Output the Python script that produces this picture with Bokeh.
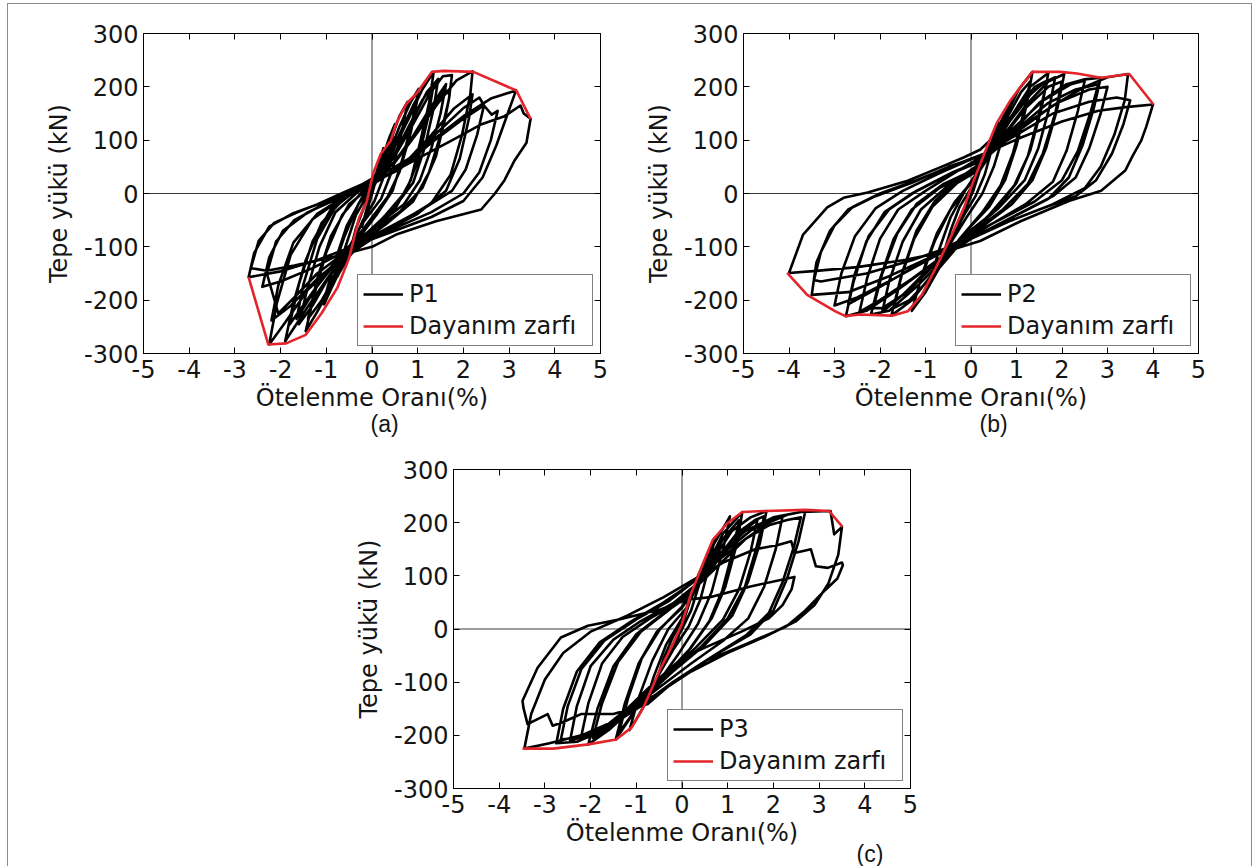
from bokeh.plotting import figure
from bokeh.models import (Span, Legend, LegendItem, LinearAxis, FixedTicker, Spacer, Div,
                          Title, NumeralTickFormatter, CustomLabelingPolicy)
from bokeh.layouts import row, column
from bokeh.embed import file_html
from bokeh.resources import INLINE

# ---- axis settings ------------------------------------------------------
X_TICKS = [-5, -4, -3, -2, -1, 0, 1, 2, 3, 4, 5]
Y_TICKS = [-300, -200, -100, 0, 100, 200, 300]
X_LABEL = "Ötelenme Oranı(%)"
Y_LABEL = "Tepe yükü (kN)"
ENV_NAME = "Dayanım zarfı"

# ---- specimen P1: drift ratio (%) / top load (kN), in loading order ----------
p1_path = [
    (0, 0), (0.1, 40), (0.25, 85), (0.15, 45), (0.02, 5), (-0.1, -30), (-0.22, -62), (-0.12, -30), (0, 0),
    (0.2, 60), (0.38, 105), (0.5, 130), (0.4, 85), (0.25, 30), (0.05, -15), (-0.2, -50), (-0.35, -80),
    (-0.48, -108), (-0.35, -65), (-0.15, -20), (0.05, 15),
    (0.35, 85), (0.6, 145), (0.78, 172), (0.65, 115), (0.45, 45), (0.2, -10), (-0.2, -55), (-0.5, -100),
    (-0.75, -155), (-0.6, -105), (-0.35, -40), (-0.05, 5),
    (0.3, 60), (0.6, 125), (0.85, 172), (1.02, 196), (0.88, 135), (0.65, 60), (0.45, 5), (0.1, -40),
    (-0.3, -85), (-0.65, -135), (-0.9, -180), (-1.05, -208), (-0.88, -150), (-0.6, -80), (-0.3, -20), (0.05, 18),
    (0.3, 55), (0.65, 120), (0.9, 165), (1.0, 180), (0.85, 115), (0.6, 40), (0.35, -5), (0, -45),
    (-0.4, -90), (-0.75, -140), (-1.0, -185), (-0.82, -130), (-0.55, -60), (-0.2, -5), (0.05, 15),
    (0.4, 70), (0.8, 140), (1.1, 195), (1.35, 228), (1.25, 170), (1.05, 95), (0.85, 25), (0.5, -30), (0, -72),
    (-0.5, -118), (-0.9, -175), (-1.2, -222), (-1.45, -258), (-1.28, -195), (-1.0, -110), (-0.65, -40),
    (-0.25, 0), (0.1, 25),
    (0.4, 60), (0.8, 125), (1.1, 175), (1.35, 205), (1.22, 140), (1.0, 60), (0.75, 5), (0.3, -40),
    (-0.2, -85), (-0.7, -140), (-1.1, -200), (-1.4, -235), (-1.2, -160), (-0.9, -80), (-0.5, -20), (0, 15),
    (0.5, 70), (0.9, 130), (1.25, 185), (1.55, 220), (1.75, 222), (1.68, 175), (1.5, 110), (1.25, 40),
    (0.9, -15), (0.3, -58), (-0.3, -95), (-0.9, -150), (-1.4, -212), (-1.9, -277), (-1.72, -205),
    (-1.45, -125), (-1.1, -55), (-0.6, -8), (0, 22),
    (0.5, 60), (1.0, 120), (1.4, 170), (1.6, 195), (1.7, 185), (1.6, 140), (1.4, 70), (1.1, 10),
    (0.6, -35), (0, -70), (-0.7, -120), (-1.3, -185), (-1.8, -245), (-1.6, -170), (-1.3, -90),
    (-0.9, -30), (-0.4, 5), (0, 20),
    (0.5, 58), (1.0, 115), (1.45, 170), (1.85, 212), (2.2, 229), (2.15, 185), (1.97, 110), (1.72, 35),
    (1.3, -18), (0.6, -55), (0, -85), (-0.7, -125), (-1.4, -180), (-1.9, -242), (-2.25, -283), (-2.08, -205),
    (-1.78, -115), (-1.3, -48), (-0.7, -12), (0, 16),
    (0.7, 55), (1.3, 110), (1.8, 160), (2.2, 186), (2.12, 140), (1.92, 65), (1.62, 5), (1.0, -38),
    (0.3, -70), (-0.5, -110), (-1.2, -160), (-1.8, -212), (-2.2, -238), (-2.05, -172), (-1.72, -92),
    (-1.2, -38), (-0.6, -6), (0, 20),
    (0.6, 45), (1.3, 95), (2.0, 140), (2.45, 165), (2.62, 148), (2.75, 155), (2.6, 100), (2.35, 40),
    (2.0, 0), (1.3, -35), (0.5, -65), (-0.4, -100), (-1.3, -140), (-2.0, -165), (-2.4, -175),
    (-2.25, -120), (-1.95, -70), (-1.4, -35), (-0.7, -8), (0, 18),
    (0.7, 55), (1.4, 105), (2.0, 145), (2.6, 178), (3.15, 193), (2.97, 150), (2.72, 90), (2.42, 30),
    (2.0, -14), (1.3, -44), (0.5, -70), (-0.3, -95), (-1.2, -125), (-2.0, -146), (-2.7, -157), (-2.58, -112),
    (-2.25, -62), (-1.75, -38), (-1.05, -16), (-0.3, 10),
    (0.4, 38), (1.1, 70), (1.8, 102), (2.4, 130), (2.9, 145), (3.25, 165), (3.32, 150), (3.47, 140),
    (3.38, 95), (3.12, 62), (2.9, 25), (2.69, 0), (2.39, -30), (1.4, -52), (0.53, -77), (0, -100),
    (-0.8, -118), (-1.7, -135), (-2.3, -145), (-2.65, -140), (-2.48, -89), (-2.14, -55), (-1.66, -36),
    (-1.19, -20), (-0.67, 0), (-0.2, 18), (0, 28),
    (0.5, 75), (0.9, 140), (1.2, 190), (1.45, 215), (1.35, 160), (1.15, 85), (0.9, 20), (0.5, -25),
    (0, -65), (-0.55, -110), (-1.0, -165), (-1.3, -210), (-1.6, -245), (-1.42, -180), (-1.15, -100),
    (-0.8, -35), (-0.35, 0), (0.1, 30),
    (0.8, 65), (1.5, 120), (2.0, 160), (2.35, 180), (2.45, 165), (2.3, 110), (2.05, 45), (1.75, 5),
    (1.1, -30), (0.4, -62), (-0.4, -98), (-1.2, -150), (-1.7, -195), (-2.05, -225), (-2.3, -150),
    (-2.1, -90), (-1.7, -50), (-1.1, -22), (-0.4, 5), (0.2, 30),
    (0.7, 80), (1.2, 150), (1.5, 190), (1.62, 205), (1.5, 150), (1.3, 85), (1.05, 25), (0.7, -20),
    (0.1, -60), (-0.6, -105), (-1.1, -160), (-1.5, -215), (-1.65, -235), (-1.5, -170), (-1.2, -85),
    (-0.8, -25), (-0.3, 10),
]
p1_envelope = [
    (-2.70, -157), (-2.27, -283), (-1.88, -281), (-1.45, -265), (-1.10, -224), (-0.76, -177),
    (-0.50, -121), (-0.28, -45), (-0.11, -14), (0.02, 36), (0.19, 74), (0.41, 99), (0.53, 131),
    (0.75, 168), (0.97, 187), (1.31, 228), (1.57, 230), (2.22, 228), (3.16, 193), (3.47, 140),
]

# ---- specimen P2 ---------------------------------------------------------
p2_path = [
    (0, 0), (0.15, 40), (0.3, 75), (0.2, 45), (0.05, 5), (-0.1, -25), (-0.3, -68), (-0.2, -40), (0, 0),
    (0.25, 60), (0.45, 105), (0.6, 132), (0.48, 90), (0.3, 35), (0.1, -5), (-0.15, -40), (-0.4, -80),
    (-0.6, -112), (-0.45, -70), (-0.25, -25), (0, 10),
    (0.3, 65), (0.6, 125), (0.9, 175), (0.75, 120), (0.5, 50), (0.25, 0), (-0.1, -45), (-0.5, -100),
    (-0.9, -165), (-0.7, -105), (-0.45, -45), (-0.1, 10),
    (0.3, 60), (0.7, 135), (1.05, 195), (1.35, 228), (1.22, 165), (1.0, 90), (0.75, 25), (0.4, -25),
    (-0.1, -70), (-0.6, -125), (-1.0, -185), (-1.3, -220), (-1.1, -160), (-0.8, -90), (-0.45, -30), (0, 20),
    (0.35, 65), (0.75, 135), (1.1, 190), (1.3, 210), (1.15, 150), (0.92, 75), (0.65, 15), (0.25, -35),
    (-0.25, -85), (-0.75, -145), (-1.1, -195), (-1.25, -205), (-1.05, -145), (-0.75, -75), (-0.35, -15), (0.05, 25),
    (0.4, 70), (0.85, 140), (1.3, 200), (1.7, 226), (1.55, 160), (1.3, 80), (1.0, 20), (0.5, -35),
    (-0.1, -80), (-0.7, -135), (-1.3, -200), (-1.75, -229), (-1.55, -160), (-1.25, -85), (-0.85, -25),
    (-0.3, 20), (0.1, 40),
    (0.5, 85), (0.95, 150), (1.4, 200), (1.68, 212), (1.5, 150), (1.25, 70), (0.95, 15), (0.4, -40),
    (-0.2, -90), (-0.8, -150), (-1.35, -200), (-1.7, -215), (-1.5, -145), (-1.2, -70), (-0.8, -15),
    (-0.3, 25), (0.1, 45),
    (0.6, 95), (1.2, 165), (1.7, 210), (2.05, 224), (1.9, 160), (1.65, 85), (1.35, 25), (0.9, -20),
    (0.2, -65), (-0.5, -115), (-1.2, -175), (-1.8, -220), (-2.2, -227), (-2.0, -160), (-1.7, -85),
    (-1.3, -30), (-0.7, 10), (0, 40),
    (0.6, 95), (1.2, 160), (1.7, 200), (2.0, 210), (1.85, 150), (1.58, 75), (1.25, 18), (0.7, -30),
    (0, -75), (-0.7, -125), (-1.4, -185), (-1.95, -215), (-2.15, -215), (-1.95, -150), (-1.62, -75),
    (-1.2, -20), (-0.6, 18), (0, 42),
    (0.8, 105), (1.5, 170), (2.1, 205), (2.5, 214), (2.85, 217), (2.7, 160), (2.45, 90), (2.15, 30),
    (1.7, -10), (0.9, -45), (0, -85), (-0.8, -130), (-1.6, -180), (-2.3, -220), (-2.75, -230),
    (-2.58, -165), (-2.3, -90), (-1.9, -35), (-1.3, 0), (-0.5, 35), (0.2, 60),
    (1.0, 120), (1.7, 170), (2.3, 195), (2.8, 205), (2.62, 150), (2.35, 80), (2.0, 25), (1.4, -15),
    (0.5, -55), (-0.4, -95), (-1.2, -135), (-2.0, -175), (-2.7, -208), (-2.55, -150), (-2.25, -80),
    (-1.8, -30), (-1.2, 5), (-0.4, 40), (0.3, 65),
    (1.0, 115), (1.8, 165), (2.5, 200), (3.0, 218), (3.45, 224), (3.38, 175), (3.15, 110), (2.85, 50),
    (2.5, 10), (1.8, -20), (0.9, -50), (0, -85), (-0.9, -120), (-1.8, -155), (-2.7, -185), (-3.5, -190),
    (-3.4, -130), (-3.1, -70), (-2.7, -30), (-2.1, -5), (-1.3, 20), (-0.5, 50), (0.2, 70),
    (1.0, 110), (1.8, 150), (2.6, 172), (3.2, 180), (3.5, 175), (3.35, 130), (3.1, 75), (2.75, 25),
    (2.3, -5), (1.5, -30), (0.6, -60), (-0.3, -95), (-1.3, -125), (-2.3, -150), (-3.3, -165),
    (-3.45, -162), (-3.3, -110), (-3.0, -60), (-2.6, -25), (-2.0, 0), (-1.2, 25), (-0.4, 52), (0.3, 75),
    (1.1, 105), (2.0, 135), (2.8, 155), (3.4, 162), (4.0, 167), (3.85, 125), (3.74, 99), (3.55, 70),
    (3.39, 43), (2.86, 5), (2.15, -14), (1.09, -52), (0.2, -89), (-0.6, -110), (-1.5, -125), (-2.5, -138),
    (-3.4, -145), (-4.0, -149), (-3.69, -77), (-3.16, -26), (-2.8, -8), (-2.27, 2), (-1.39, 24),
    (-0.68, 49), (-0.15, 68), (0.2, 82),
    (0.8, 130), (1.3, 185), (1.6, 208), (1.85, 218), (1.72, 160), (1.48, 85), (1.18, 25), (0.6, -28),
    (-0.1, -75), (-0.8, -130), (-1.5, -190), (-1.95, -222), (-1.8, -165), (-1.5, -90), (-1.1, -30),
    (-0.5, 15), (0.1, 50),
    (0.9, 120), (1.6, 175), (2.2, 205), (2.5, 212), (2.35, 155), (2.1, 80), (1.8, 22), (1.2, -20),
    (0.4, -60), (-0.5, -110), (-1.3, -160), (-2.0, -200), (-2.45, -222), (-2.28, -158), (-2.0, -85),
    (-1.6, -30), (-1.0, 5), (-0.3, 42), (0.3, 72),
    (1.1, 125), (1.9, 170), (2.6, 195), (3.0, 200), (2.85, 150), (2.6, 85), (2.3, 30), (1.8, -5),
    (1.0, -40), (0.1, -80), (-0.8, -118), (-1.7, -160), (-2.5, -195), (-3.0, -210), (-2.85, -150),
    (-2.55, -80), (-2.1, -28), (-1.5, 5), (-0.7, 38), (0.1, 68),
]
p2_envelope = [
    (-4.04, -149), (-3.60, -190), (-2.98, -221), (-2.76, -230), (-2.45, -227), (-1.74, -229),
    (-1.39, -221), (-1.08, -190), (-0.77, -139), (-0.42, -77), (-0.15, -26), (0.03, 18), (0.29, 74),
    (0.56, 131), (0.87, 175), (1.09, 200), (1.35, 228), (1.97, 228), (2.33, 225), (2.86, 217),
    (3.48, 224), (4.01, 167),
]

# ---- specimen P3 ---------------------------------------------------------
p3_path = [
    (0, 0), (0.1, 40), (0.2, 70), (0.12, 40), (0, 5), (-0.1, -20), (-0.25, -45), (-0.15, -20), (0, 5),
    (0.2, 60), (0.35, 100), (0.5, 128), (0.38, 85), (0.2, 35), (0, 0), (-0.2, -30), (-0.4, -65),
    (-0.55, -95), (-0.4, -55), (-0.2, -15), (0, 15),
    (0.3, 80), (0.55, 140), (0.72, 172), (0.6, 120), (0.4, 55), (0.15, 5), (-0.2, -40), (-0.5, -85),
    (-0.8, -140), (-0.62, -90), (-0.35, -30), (0, 20),
    (0.35, 90), (0.7, 160), (1.05, 212), (0.9, 150), (0.65, 70), (0.35, 10), (-0.1, -50), (-0.6, -110),
    (-1.0, -170), (-1.15, -190), (-0.95, -130), (-0.65, -60), (-0.3, 0), (0.1, 40),
    (0.5, 110), (0.9, 180), (1.32, 220), (1.2, 160), (0.95, 80), (0.65, 20), (0.2, -35), (-0.4, -90),
    (-1.0, -150), (-1.45, -208), (-1.25, -140), (-0.95, -65), (-0.55, -5), (0, 40),
    (0.5, 105), (0.9, 170), (1.25, 205), (1.12, 150), (0.88, 72), (0.6, 15), (0.15, -40), (-0.45, -95),
    (-1.0, -150), (-1.38, -195), (-1.18, -130), (-0.88, -55), (-0.48, 0), (0, 42),
    (0.6, 120), (1.1, 185), (1.5, 210), (1.85, 222), (1.7, 160), (1.45, 90), (1.1, 25), (0.5, -30),
    (-0.2, -80), (-0.9, -135), (-1.6, -190), (-2.05, -217), (-1.85, -150), (-1.5, -70), (-1.0, -10),
    (-0.4, 30), (0.2, 65),
    (0.7, 125), (1.2, 180), (1.6, 205), (1.8, 212), (1.62, 150), (1.38, 80), (1.0, 20), (0.4, -35),
    (-0.3, -85), (-1.0, -140), (-1.6, -185), (-1.95, -205), (-1.75, -140), (-1.4, -62), (-0.9, -5),
    (-0.3, 35), (0.2, 70),
    (0.8, 120), (1.4, 170), (1.9, 200), (2.3, 215), (2.7, 222), (2.55, 165), (2.3, 95), (2.0, 35),
    (1.5, -10), (0.7, -50), (-0.1, -95), (-0.9, -145), (-1.7, -190), (-2.3, -212), (-2.75, -215),
    (-2.6, -150), (-2.3, -80), (-1.8, -25), (-1.1, 15), (-0.4, 50), (0.2, 85),
    (0.8, 130), (1.4, 170), (1.9, 195), (2.3, 205), (2.6, 210), (2.45, 155), (2.2, 88), (1.9, 30),
    (1.4, -12), (0.6, -55), (-0.2, -100), (-1.0, -150), (-1.8, -190), (-2.4, -205), (-2.65, -208),
    (-2.5, -145), (-2.2, -75), (-1.7, -22), (-1.0, 18), (-0.3, 52), (0.2, 85),
    (0.8, 140), (1.4, 185), (2.0, 210), (2.6, 220), (3.25, 222), (3.33, 178), (3.5, 192), (3.42, 140),
    (3.2, 85), (2.9, 45), (2.5, 15), (1.8, -15), (1.0, -45), (0.2, -80), (-0.6, -125), (-1.4, -170),
    (-2.2, -200), (-2.9, -215), (-3.45, -225), (-3.3, -160), (-3.0, -95), (-2.6, -45), (-2.0, -5),
    (-1.2, 25), (-0.4, 60), (0.2, 90),
    (0.9, 125), (1.6, 150), (2.1, 158), (2.39, 165), (2.46, 143), (2.82, 150), (2.93, 118), (3.19, 115),
    (3.5, 125), (3.52, 120), (3.4, 95), (3.13, 73), (2.7, 35), (2.27, 4), (1.41, -28), (0.54, -59),
    (-0.15, -97), (-0.75, -141), (-1.5, -160), (-2.21, -160), (-2.6, -175), (-2.83, -182), (-2.94, -160),
    (-3.38, -179), (-3.47, -148), (-3.49, -135), (-3.16, -73), (-2.65, -16), (-2.06, 6), (-1.33, 19),
    (-0.46, 37), (0.1, 55),
    (0.63, 60), (1.5, 80), (2.46, 98), (2.4, 75), (2.2, 45), (1.9, 20), (1.3, -5), (0.5, -35), (0, -55),
    (-0.6, -100), (-1.2, -150), (-1.7, -185), (-2.2, -200), (-2.05, -140), (-1.75, -65), (-1.3, -15),
    (-0.7, 20), (0, 55), (0.6, 110), (1.1, 165), (1.5, 195), (1.65, 205), (1.5, 145), (1.25, 75),
    (0.9, 18), (0.3, -35), (-0.4, -90), (-1.1, -145), (-1.7, -190), (-2.45, -210), (-2.3, -145),
    (-2.0, -70), (-1.5, -20), (-0.9, 15), (-0.2, 48), (0.4, 90), (1.0, 150), (1.5, 185), (2.0, 205),
    (2.2, 212), (2.05, 150), (1.8, 80), (1.45, 20), (0.9, -22), (0.2, -65), (-0.5, -110), (-1.1, -150),
    (-1.5, -175),
]
p3_envelope = [
    (-3.49, -225), (-2.82, -225), (-2.05, -217), (-1.44, -208), (-1.10, -185), (-0.84, -147),
    (-0.49, -78), (-0.23, -34), (0.0, 10), (0.20, 67), (0.46, 123), (0.67, 167), (0.98, 198),
    (1.32, 220), (1.84, 222), (2.70, 224), (3.22, 222), (3.51, 192),
]

FONT = "DejaVu Sans"
CAPTION_FONT = "Liberation Sans Narrow, Liberation Sans"
TEXT_COLOR = "#151515"
CURVE_COLOR = "#000000"
ENV_COLOR = "#e3242b"

# labels of the mirrored top/right axes are suppressed, only their ticks remain
NO_LABELS = CustomLabelingPolicy(code="""
for (const i of Array.from(indices)) { indices.set(i, false) }
return indices
""")


def style_axis(ax, ticks, show_labels=True):
    ax.ticker = FixedTicker(ticks=ticks)
    ax.formatter = NumeralTickFormatter(format="0")
    ax.major_tick_in = 6
    ax.major_tick_out = 0
    ax.minor_tick_in = 0
    ax.minor_tick_out = 0
    ax.axis_line_color = "black"
    ax.major_tick_line_color = "black"
    ax.major_label_text_font = FONT
    ax.major_label_text_color = TEXT_COLOR
    if show_labels:
        ax.major_label_text_font_size = "24px"
    else:
        ax.major_label_policy = NO_LABELS
        ax.major_label_text_font_size = "0px"
        ax.major_label_standoff = 0


def panel(path, envelope, name, caption, cap_offset, cap_standoff, width, height,
          left, right, top, bottom):
    p = figure(width=width, height=height, x_range=(-5, 5), y_range=(-300, 300),
               output_backend="svg", toolbar_location=None,
               min_border_left=left, min_border_right=right,
               min_border_top=top, min_border_bottom=bottom,
               background_fill_color="white", border_fill_color="white")
    p.grid.visible = False
    p.outline_line_color = "black"
    p.outline_line_width = 1

    style_axis(p.xaxis[0], X_TICKS)
    style_axis(p.yaxis[0], Y_TICKS)
    p.xaxis[0].major_label_standoff = 6
    p.yaxis[0].major_label_standoff = 5
    p.xaxis[0].axis_label = X_LABEL
    p.yaxis[0].axis_label = Y_LABEL
    for ax in (p.xaxis[0], p.yaxis[0]):
        ax.axis_label_text_font = FONT
        ax.axis_label_text_font_size = "24px"
        ax.axis_label_text_font_style = "normal"
        ax.axis_label_text_color = TEXT_COLOR
    p.xaxis[0].axis_label_standoff = 3
    p.yaxis[0].axis_label_standoff = 8

    top_ax = LinearAxis()
    style_axis(top_ax, X_TICKS, show_labels=False)
    p.add_layout(top_ax, "above")
    right_ax = LinearAxis()
    style_axis(right_ax, Y_TICKS, show_labels=False)
    p.add_layout(right_ax, "right")

    p.add_layout(Span(location=0, dimension="height", line_color="#3a3a3a",
                      line_width=1, level="underlay"))
    p.add_layout(Span(location=0, dimension="width", line_color="#3a3a3a",
                      line_width=1, level="underlay"))

    xs = [pt[0] for pt in path]
    ys = [pt[1] for pt in path]
    ex = [pt[0] for pt in envelope]
    ey = [pt[1] for pt in envelope]
    r_curve = p.line(xs, ys, line_color=CURVE_COLOR, line_width=2.6, line_join="round")
    r_env = p.line(ex, ey, line_color=ENV_COLOR, line_width=2.6, line_join="round")

    legend = Legend(items=[LegendItem(label=name, renderers=[r_curve]),
                           LegendItem(label=ENV_NAME, renderers=[r_env])],
                    location="bottom_right", margin=7, padding=5, spacing=4,
                    glyph_width=40, glyph_height=28, label_height=28, label_standoff=6,
                    label_width=178,
                    label_text_font=FONT, label_text_font_size="24px",
                    label_text_color=TEXT_COLOR,
                    border_line_color="black", border_line_width=1,
                    background_fill_color="white", background_fill_alpha=1)
    p.add_layout(legend)

    p.add_layout(Title(text=caption, align="left", offset=cap_offset, standoff=cap_standoff,
                       text_font=CAPTION_FONT, text_font_size="23px",
                       text_font_style="normal", text_color=TEXT_COLOR), "below")
    return p


fig_a = panel(p1_path, p1_envelope, "P1", "(a)", 227, -12, 620, 440, 143, 20, 33, 87)
fig_b = panel(p2_path, p2_envelope, "P2", "(b)", 236, -12, 634, 440, 123, 56, 33, 87)
fig_c = panel(p3_path, p3_envelope, "P3", "(c)", 403, -21, 620, 426, 123, 40, 29, 78)

# thin grey frame round the whole page
page_frame = Div(width=0, height=0, text=(
    '<div style="position:fixed;left:7px;top:3px;width:1245px;height:900px;'
    'border:1px solid #8c8c8c;box-sizing:border-box;pointer-events:none;z-index:10;"></div>'))

root = column(row(fig_a, fig_b), row(Spacer(width=330, height=426), fig_c, page_frame))

open("out.html", "w").write(file_html(root, INLINE))
